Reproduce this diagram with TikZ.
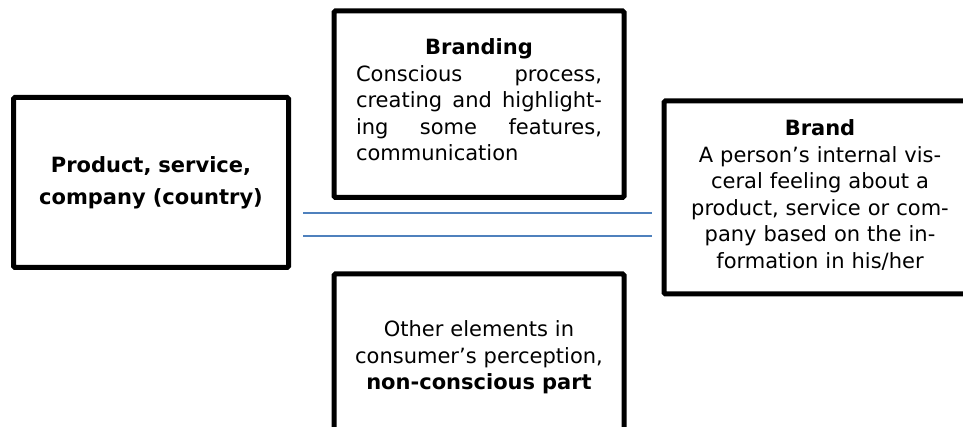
\documentclass[tikz,border=0pt]{standalone}
\usepackage{fontspec}
\setmainfont{DejaVu Sans}
\begin{document}
\begin{tikzpicture}[x=1pt,y=-1pt,
  box/.style={draw=black, line width=5pt, rounded corners=1.5pt, inner sep=0pt},
  txt/.style={inner sep=0pt, anchor=base, font=\fontsize{21}{26.5}\selectfont},
  link/.style={draw={rgb,255:red,79;green,129;blue,189}, line width=2pt}]
\useasboundingbox (0,0) rectangle (963,427);
\clip (0,0) rectangle (963,427);
% boxes
\node[box, minimum width=275pt, minimum height=170pt] (product) at (151,182.5) {};
\node[box, minimum width=290pt, minimum height=186.5pt] (branding) at (479,104.25) {};
\node[box, minimum width=312pt, minimum height=193pt] (brand) at (820,197.5) {};
\node[box, minimum width=290pt, minimum height=166pt] (other) at (479,357) {};
% texts
\node[txt, text width=270pt, font=\fontsize{21}{32}\selectfont\bfseries, align=center] (producttext) at (151,173)
  {Product, service,\\company (country)};
\node[txt, text width=246pt, align=center] (brandingtext) at (479,55)
  {\textbf{Branding}\\
   \makebox[246pt]{Conscious\hfill process,}\\
   \makebox[246pt]{creating\hfill and\hfill highlight-}\\
   \makebox[246pt]{ing\hfill some\hfill features,}\\
   \makebox[246pt]{communication\hfill}};
\node[txt, text width=280pt, align=center] (brandtext) at (820,136)
  {\textbf{Brand}\\A person’s internal vis-\\ceral feeling about a\\product, service or com-\\pany based on the in-\\formation in his/her};
\node[txt, text width=280pt, align=center] (othertext) at (479,337)
  {Other elements in\\consumer’s perception,\\\textbf{non-conscious part}};
% blue lines
\coordinate (l1a) at (303,213);
\coordinate (l1b) at (652,213);
\coordinate (l2a) at (303,236);
\coordinate (l2b) at (652,236);
\draw[link] (l1a) -- (l1b);
\draw[link] (l2a) -- (l2b);
\end{tikzpicture}
\end{document}
